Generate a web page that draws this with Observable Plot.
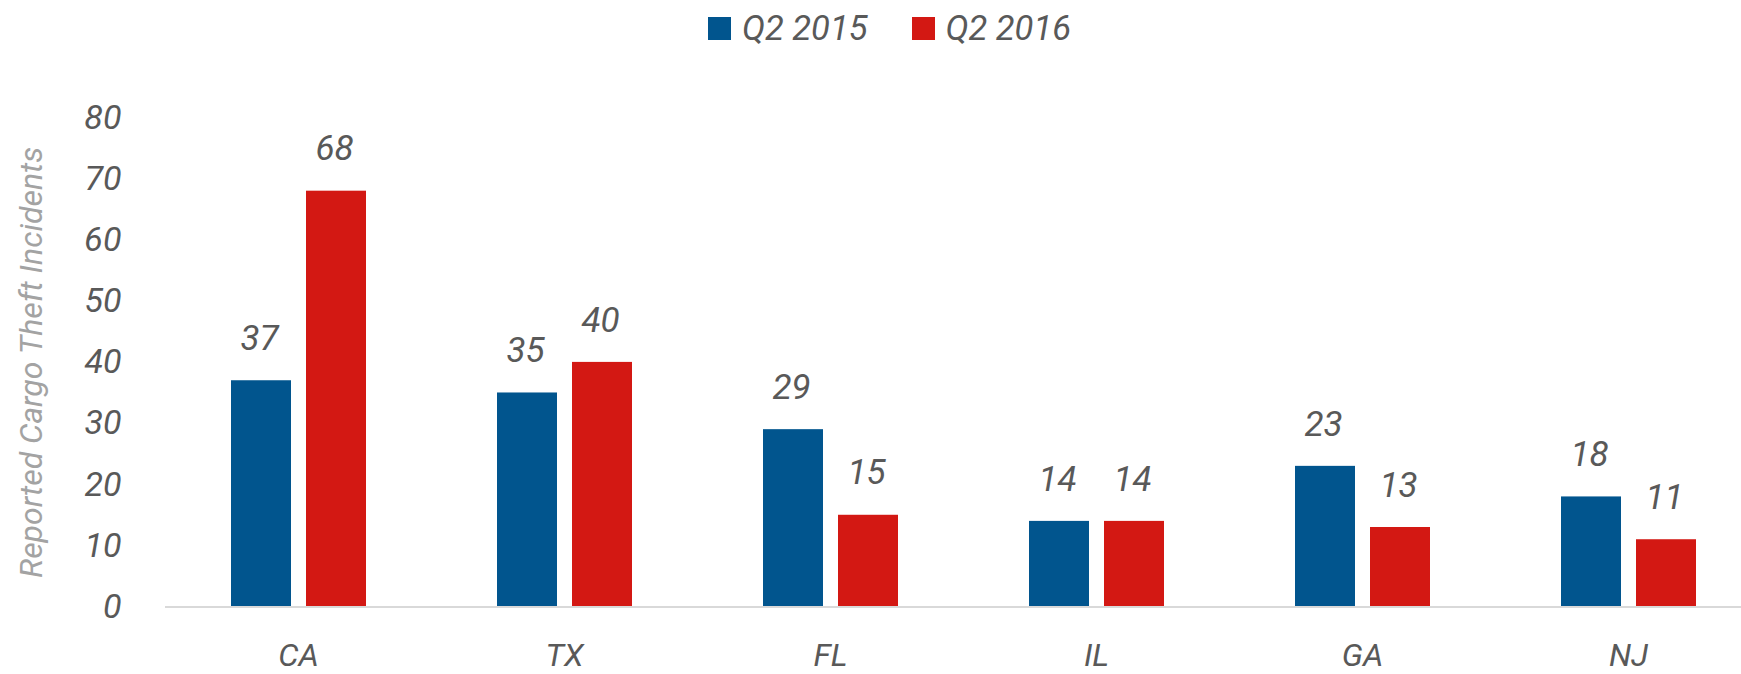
<!DOCTYPE html>
<html><head><meta charset="utf-8">
<script src="https://cdn.jsdelivr.net/npm/d3@7"></script>
<script src="https://cdn.jsdelivr.net/npm/@observablehq/plot@0.6"></script>
<style>
body{margin:0;background:#fff;font-family:Roboto,sans-serif;}
#wrap{position:relative;width:1741px;height:674px;overflow:hidden;}
#legend{position:absolute;top:0;left:708px;height:56px;display:flex;align-items:center;font-style:italic;font-size:34.5px;color:#595959;font-family:Roboto,sans-serif;white-space:nowrap;}
#legend .item{display:flex;align-items:center;margin-right:44px;}
#legend .sw{width:23px;height:23px;margin-right:11px;}
#chart{position:absolute;top:0;left:0;}
</style></head>
<body><div id="wrap"><div id="chart"></div><div id="legend"></div></div>
<script>
const states = ["CA","TX","FL","IL","GA","NJ"];
const series = ["Q2 2015","Q2 2016"];
const q2_2015 = [37,35,29,14,23,18];
const q2_2016 = [68,40,15,14,13,11];
const colors = ["#01558e","#d31813"];
const yTicks = [0,10,20,30,40,50,60,70,80];
const yTitle = "Reported Cargo Theft Incidents";

const rows = states.flatMap((s,i)=>[
  {state:s, series:series[0], value:q2_2015[i]},
  {state:s, series:series[1], value:q2_2016[i]}
]);

const plot = Plot.plot({
  width:1741, height:674,
  marginTop:117.3, marginBottom:67.5, marginLeft:164, marginRight:-20,
  style:{fontFamily:"Roboto", fontSize:"32px", fontStyle:"italic", color:"#595959", background:"transparent", overflow:"visible"},
  facet:{data: rows, x:"state"},
  fx:{domain: states, padding:0, label:null, tickSize:0, tickPadding:36},
  x:{domain: series, axis:null, paddingInner:0.2, paddingOuter:0.863},
  y:{domain:[0,80]},
  color:{domain:series, range:colors},
  marks:[
    Plot.barY(rows,{x:"series", y:"value", fill:"series"}),
    Plot.ruleY([0],{stroke:"#d9d9d9", strokeWidth:2}),
    Plot.text(rows,{x:"series", y:"value", text:d=>String(d.value), dy:-42, dx:-2, fill:"#595959", fontSize:35}),
    Plot.axisY({ticks:yTicks, tickSize:0, tickPadding:44, label:null, fontSize:34}),
    Plot.axisY({ticks:[], label:yTitle, labelAnchor:"center", labelArrow:"none", labelOffset:146, fontSize:32, dy:-18, color:"#a3a3a3"})
  ]
});
document.getElementById("chart").appendChild(plot);

const legend = d3.select("#legend");
series.forEach((s,i)=>{
  const it = legend.append("div").attr("class","item");
  it.append("div").attr("class","sw").style("background", colors[i]);
  it.append("span").text(s);
});
</script>
</body></html>
